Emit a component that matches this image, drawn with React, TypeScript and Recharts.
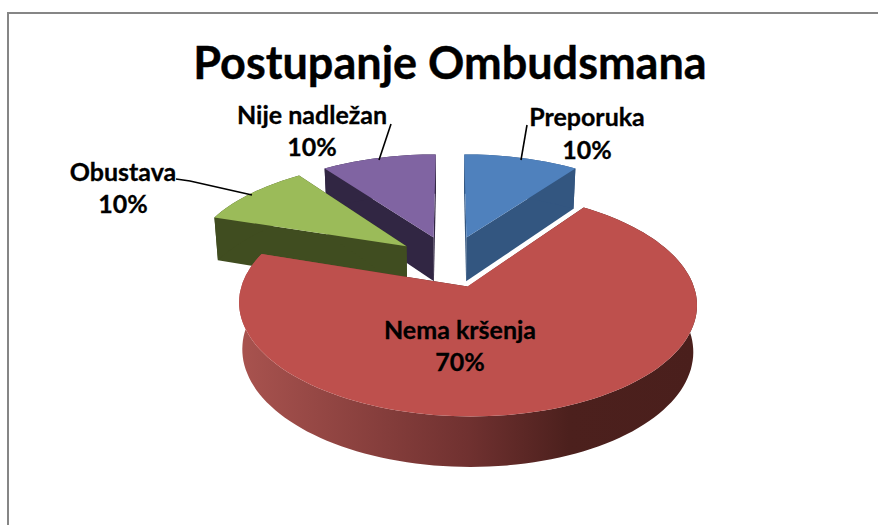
import { PieChart, Pie, Cell } from "recharts";

// order starts at the back left slice so the painter's order works out
const categories = ["Nije nadležan", "Preporuka", "Nema kršenja", "Obustava"];
const shares = [10, 10, 70, 10];
const topColors = ["#8064A2", "#4F81BD", "#BE504D", "#9BBB59"];
const wallColors = ["#312643", "#335680", "url(#redWall)", "#404D20"];

const LABELS: Record<string, { x: number; y: number; y2: number; line?: number[][] }> = {
  "Nije nadležan": { x: 312, y: 124, y2: 156, line: [[391, 124], [379, 160]] },
  Preporuka: { x: 587, y: 126, y2: 159, line: [[527, 125], [521, 160]] },
  "Nema kršenja": { x: 460, y: 339, y2: 371 },
  Obustava: { x: 123, y: 181, y2: 213, line: [[176, 179], [190, 181], [252, 195]] },
};

const chartData = categories.map((name, i) => ({ name, value: shares[i], wall: wallColors[i] }));

const EXPLODE = 0.252;
const TILT = 0.468;
const PERSPECTIVE = 0.15;

function SliceShape(props: any) {
  const { cx, cy, outerRadius: R, startAngle, endAngle, fill, payload, only, skip } = props;
  const name = props.name ?? payload?.name;
  if (only && name !== only) return null;
  if (skip && name === skip) return null;

  const from = 90 - startAngle;
  const to = 90 - endAngle;
  const mid = (((from + to) / 2) * Math.PI) / 180;

  const top = (deg: number, r: number) => {
    const t = (deg * Math.PI) / 180;
    const X = EXPLODE * Math.sin(mid) + r * Math.sin(t);
    const Y = EXPLODE * Math.cos(mid) + r * Math.cos(t);
    const w = 1 + PERSPECTIVE * Y;
    return { x: cx + (R * X) / w, y: cy - (TILT * R * Y) / w, Y };
  };
  const low = (deg: number, r: number) => {
    const p = top(deg, r);
    return { x: cx + (p.x - cx) * 0.985, y: p.y + 45 - 4.5 * p.Y };
  };
  const toPath = (pts: { x: number; y: number }[]) =>
    "M" + pts.map((p) => `${p.x.toFixed(1)},${p.y.toFixed(1)}`).join("L") + "Z";

  const steps = Math.max(8, Math.round((to - from) / 2));
  const angles = Array.from({ length: steps + 1 }, (_, i) => from + ((to - from) * i) / steps);
  const arcTop = angles.map((a) => top(a, 1));
  const arcLow = angles.map((a) => low(a, 1)).reverse();

  return (
    <g>
      <defs>
        <linearGradient id="redWall" x1="0" y1="0" x2="1" y2="0">
          <stop offset="0" stopColor="#A9534F" />
          <stop offset="0.5" stopColor="#703130" />
          <stop offset="0.72" stopColor="#4C201D" />
          <stop offset="1" stopColor="#4A1F1C" />
        </linearGradient>
      </defs>
      <path d={toPath([top(from, 0), top(from, 1), low(from, 1), low(from, 0)])} fill={payload.wall} />
      <path d={toPath([top(to, 0), top(to, 1), low(to, 1), low(to, 0)])} fill={payload.wall} />
      <path d={toPath([...arcTop, ...arcLow])} fill={payload.wall} />
      <path d={toPath([top(from, 0), ...arcTop])} fill={fill} />
    </g>
  );
}

function renderLabel(props: any) {
  const spec = LABELS[props.name ?? props.payload?.name];
  if (!spec) return null;
  const text = {
    fontFamily: "Lato",
    fontWeight: 700,
    fontSize: 25,
    fill: "#000",
    stroke: "#000",
    strokeWidth: 0.3,
    textAnchor: "middle" as const,
  };
  return (
    <g>
      {spec.line && (
        <polyline
          points={spec.line.map((p) => p.join(",")).join(" ")}
          fill="none"
          stroke="#000"
          strokeWidth={1.6}
        />
      )}
      <text x={spec.x} y={spec.y} {...text}>
        {props.name ?? props.payload?.name}
      </text>
      <text x={spec.x} y={spec.y2} {...text}>
        {`${props.value}%`}
      </text>
    </g>
  );
}

const PIE_MARGIN = { top: 0, right: 0, bottom: 0, left: 0 };

export default function App() {
  return (
    <div style={{ position: "absolute", left: 0, top: 0, width: 878, height: 525, background: "#fff" }}>
      {/* chart frame, only top and left are in shot */}
      <div style={{ position: "absolute", left: 7, top: 12, right: 0, height: 1.5, background: "#868686" }} />
      <div style={{ position: "absolute", left: 7, top: 12, bottom: 0, width: 2, background: "#868686" }} />
      <div
        style={{
          position: "absolute",
          left: 0,
          width: 900,
          top: 30,
          textAlign: "center",
          fontFamily: "Lato",
          fontWeight: 700,
          fontSize: 45,
          lineHeight: "64px",
          color: "#000",
          WebkitTextStroke: "0.4px #000",
        }}
      >
        Postupanje Ombudsmana
      </div>
      <div style={{ position: "absolute", left: 0, top: 0 }}>
        <PieChart width={878} height={525} margin={PIE_MARGIN}>
          <Pie
            data={chartData}
            dataKey="value"
            nameKey="name"
            cx={450}
            cy={261}
            outerRadius={218}
            startAngle={126}
            endAngle={-234}
            stroke="none"
            isAnimationActive={false}
            shape={(p: any) => <SliceShape {...p} skip="Nema kršenja" />}
          >
            {chartData.map((d, i) => (
              <Cell key={d.name} fill={topColors[i]} />
            ))}
          </Pie>
          <Pie
            data={chartData}
            dataKey="value"
            nameKey="name"
            cx={450}
            cy={261}
            outerRadius={218}
            startAngle={126}
            endAngle={-234}
            stroke="none"
            isAnimationActive={false}
            label={renderLabel}
            labelLine={false}
            shape={(p: any) => <SliceShape {...p} only="Nema kršenja" />}
          >
            {chartData.map((d, i) => (
              <Cell key={d.name} fill={topColors[i]} />
            ))}
          </Pie>
        </PieChart>
      </div>
    </div>
  );
}
